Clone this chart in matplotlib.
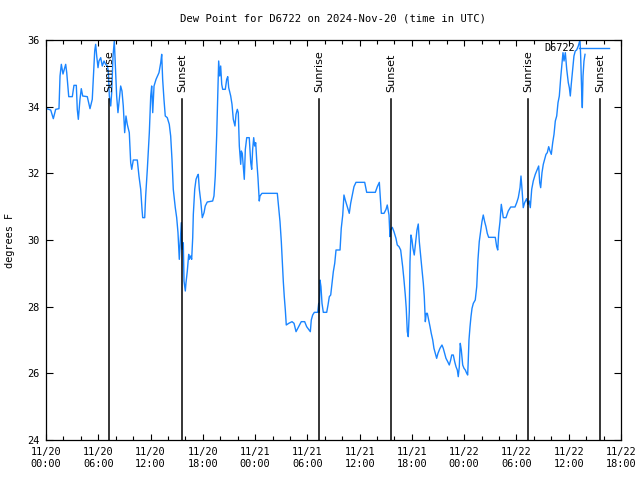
import numpy as np
import pandas as pd
import matplotlib
matplotlib.use("Agg")
import matplotlib.pyplot as plt
import matplotlib.dates as mdates

# hours after 2024-11-20 00:00 UTC
hours = [0.08, 0.54, 0.84, 1.11, 1.49, 1.61, 1.76, 1.95, 2.15, 2.26, 2.38, 2.53, 2.61, 3.02, 3.21, 3.48,
         3.59, 3.71, 3.90, 4.05, 4.21, 4.74, 5.05, 5.31, 5.43, 5.59, 5.70, 5.82, 5.97, 6.08, 6.28, 6.46,
         6.66, 6.85, 7.04, 7.15, 7.27, 7.43, 7.54, 7.69, 7.84, 7.95, 8.11, 8.26, 8.41, 8.57, 8.72, 8.87,
         9.03, 9.18, 9.33, 9.56, 9.72, 9.84, 10.02, 10.48, 10.67, 10.87, 11.02, 11.10, 11.33, 11.44, 11.63,
         11.86, 12.02, 12.13, 12.25, 12.40, 12.63, 12.97, 13.17, 13.28, 13.39, 13.54, 13.69, 13.92, 14.15,
         14.31, 14.46, 14.61, 14.84, 15.00, 15.15, 15.30, 15.46, 15.53, 15.61, 15.76, 15.84, 15.99, 16.07,
         16.22, 16.38, 16.45, 16.61, 16.72, 16.84, 16.91, 17.07, 17.22, 17.37, 17.48, 17.60, 17.76, 17.94,
         18.14, 18.28, 18.51, 19.13, 19.28, 19.43, 19.59, 19.74, 19.82, 19.94, 20.05, 20.17, 20.28, 20.58,
         20.74, 20.86, 20.97, 21.20, 21.35, 21.50, 21.69, 21.81, 21.96, 22.07, 22.19, 22.35, 22.42, 22.53,
         22.65, 22.76, 22.88, 23.04, 23.33, 23.50, 23.61, 23.72, 23.84, 23.95, 24.07, 24.18, 24.33, 24.48,
         24.56, 24.79, 26.55, 26.71, 26.86, 27.01, 27.12, 27.24, 27.35, 27.47, 27.58, 27.86, 28.24, 28.47,
         28.70, 29.00, 29.30, 29.69, 29.92, 30.19, 30.34, 30.45, 30.61, 30.80, 31.19, 31.30, 31.37, 31.45,
         31.56, 31.68, 31.83, 32.22, 32.37, 32.52, 32.68, 32.83, 32.98, 33.14, 33.29, 33.75, 33.89, 34.06,
         34.20, 34.35, 34.58, 34.81, 34.97, 35.20, 35.35, 35.58, 36.58, 36.81, 37.80, 38.03, 38.26, 38.49,
         38.80, 39.03, 39.17, 39.37, 39.48, 39.56, 39.75, 39.94, 40.17, 40.32, 40.52, 40.71, 40.94, 41.09,
         41.24, 41.35, 41.47, 41.58, 41.70, 41.78, 41.89, 42.01, 42.12, 42.27, 42.43, 42.58, 42.73, 42.85,
         43.01, 43.16, 43.31, 43.42, 43.54, 43.65, 43.77, 43.93, 44.08, 44.22, 44.39, 44.53, 44.68, 44.84,
         44.99, 45.22, 45.45, 45.60, 45.76, 45.91, 46.11, 46.29, 46.45, 46.57, 46.75, 46.91, 47.06, 47.21,
         47.32, 47.44, 47.55, 47.67, 47.83, 47.98, 48.13, 48.29, 48.40, 48.47, 48.55, 48.67, 48.78, 48.90,
         49.05, 49.27, 49.44, 49.58, 49.73, 49.89, 50.04, 50.19, 50.35, 50.50, 50.65, 50.81, 51.57, 51.73,
         51.85, 51.96, 52.11, 52.26, 52.49, 52.80, 53.06, 53.34, 53.83, 54.03, 54.21, 54.41, 54.52, 54.64,
         54.78, 54.94, 55.17, 55.32, 55.47, 55.59, 55.75, 55.93, 56.16, 56.39, 56.55, 56.67, 56.78, 56.93,
         57.08, 57.24, 57.39, 57.54, 57.70, 57.85, 58.00, 58.16, 58.31, 58.46, 58.62, 58.77, 58.92, 59.08,
         59.23, 59.34, 59.46, 59.61, 59.77, 59.95, 60.07, 60.18, 60.29, 60.45, 60.60, 60.75, 60.91, 61.10,
         61.21, 61.29, 61.37, 61.49, 61.56, 61.64, 61.75, 61.87]

dewpoint = [33.94, 33.90, 33.64, 33.92, 33.94, 34.92, 35.27, 34.98, 35.17, 35.27, 35.02, 34.57, 34.30, 34.30,
            34.64, 34.64, 33.92, 33.62, 34.22, 34.54, 34.32, 34.30, 33.94, 34.22, 34.82, 35.67, 35.87, 35.52,
            35.17, 35.37, 35.47, 35.22, 35.37, 35.27, 35.22, 35.07, 34.32, 34.02, 34.42, 35.52, 35.97, 35.27,
            34.32, 33.82, 34.22, 34.62, 34.47, 34.02, 33.22, 33.72, 33.47, 33.22, 32.32, 32.12, 32.40, 32.40,
            31.92, 31.52, 30.92, 30.67, 30.67, 31.32, 32.12, 33.22, 34.32, 34.62, 33.82, 34.62, 34.82, 35.02,
            35.32, 35.57, 34.82, 34.22, 33.72, 33.67, 33.47, 33.12, 32.42, 31.52, 30.97, 30.67, 30.22, 29.42,
            30.22, 30.52, 29.72, 29.92, 28.77, 28.47, 28.72, 29.07, 29.57, 29.42, 29.52, 29.42, 30.07, 30.77,
            31.52, 31.82, 31.92, 31.97, 31.52, 31.17, 30.67, 30.82, 31.02, 31.14, 31.17, 31.32, 31.92, 33.12,
            34.62, 35.37, 34.92, 35.22, 34.67, 34.52, 34.52, 34.82, 34.90, 34.57, 34.32, 34.07, 33.62, 33.42,
            33.77, 33.92, 33.82, 32.82, 32.27, 32.67, 32.60, 32.17, 31.82, 32.72, 33.07, 33.07, 32.32, 32.12,
            32.72, 33.07, 32.82, 32.92, 32.42, 31.87, 31.17, 31.32, 31.40, 31.40, 30.97, 30.55, 29.95, 29.35,
            28.75, 28.30, 27.90, 27.45, 27.50, 27.55, 27.50, 27.25, 27.40, 27.55, 27.55, 27.40, 27.30, 27.25,
            27.60, 27.75, 27.83, 27.83, 28.10, 27.83, 28.80, 28.60, 28.10, 27.83, 27.83, 28.05, 28.30, 28.35,
            28.70, 29.05, 29.30, 29.70, 29.70, 30.35, 30.75, 31.35, 31.20, 31.00, 30.80, 31.10, 31.40, 31.60,
            31.73, 31.73, 31.43, 31.43, 31.60, 31.73, 30.80, 30.80, 30.92, 31.05, 30.75, 30.10, 30.30, 30.38,
            30.25, 30.05, 29.85, 29.80, 29.70, 29.20, 28.80, 28.35, 27.95, 27.25, 27.10, 27.85, 29.35, 30.15,
            30.00, 29.75, 29.55, 29.95, 30.30, 30.48, 29.95, 29.50, 29.10, 28.70, 28.30, 27.55, 27.80, 27.80,
            27.60, 27.40, 27.20, 27.00, 26.75, 26.60, 26.45, 26.60, 26.75, 26.85, 26.75, 26.60, 26.45, 26.35,
            26.25, 26.40, 26.55, 26.55, 26.35, 26.20, 26.10, 25.90, 26.20, 26.90, 26.70, 26.25, 26.15, 26.10,
            26.00, 25.95, 26.40, 27.00, 27.40, 27.70, 27.95, 28.10, 28.20, 28.60, 29.40, 29.95, 30.25, 30.55,
            30.75, 30.55, 30.40, 30.20, 30.08, 30.08, 29.80, 29.70, 30.20, 30.55, 31.07, 30.67, 30.67, 30.87,
            30.99, 30.99, 31.12, 31.27, 31.57, 31.92, 31.52, 30.97, 31.12, 31.24, 31.07, 31.17, 30.97, 31.52,
            31.77, 31.97, 32.12, 32.22, 31.72, 31.57, 32.02, 32.27, 32.42, 32.57, 32.62, 32.80, 32.67, 32.57,
            32.92, 33.17, 33.57, 33.72, 34.12, 34.32, 34.87, 35.32, 35.62, 35.37, 35.62, 35.12, 34.72, 34.57,
            34.32, 34.67, 35.12, 35.52, 35.67, 35.70, 35.82, 35.92, 36.00, 35.52, 34.42, 33.97, 34.92, 35.37,
            35.57]

sun_times = ["2024-11-20 07:14", "2024-11-20 15:38", "2024-11-21 07:21",
             "2024-11-21 15:37", "2024-11-22 07:21", "2024-11-22 15:36"]
sun_labels = ["Sunrise", "Sunset", "Sunrise", "Sunset", "Sunrise", "Sunset"]

start = pd.Timestamp("2024-11-20 00:00")
times = start + pd.to_timedelta(hours, unit="h")

mono = "DejaVu Sans Mono"
plt.rcParams["font.family"] = mono
plt.rcParams["font.size"] = 7.4

fig = plt.figure(figsize=(6.4, 4.8), dpi=100)
ax = fig.add_axes([46 / 640, 40 / 480, 575 / 640, 400 / 480])

ax.plot(times, dewpoint, color="#1a85ff", lw=1.0, label="D6722")

for t, lab in zip(sun_times, sun_labels):
    tt = pd.Timestamp(t)
    ax.axvline(tt, ymin=0, ymax=0.853, color="black", lw=1.1)
    ax.text(tt, 0.87, lab, transform=ax.get_xaxis_transform(), rotation=90,
            ha="center", va="bottom", fontsize=8, family="DejaVu Sans")

ax.set_xlim(start, start + pd.Timedelta(hours=66))
ax.set_ylim(24, 36)
ax.set_yticks(np.arange(24, 37, 2))
ax.xaxis.set_major_locator(mdates.HourLocator(byhour=[0, 6, 12, 18]))
ax.xaxis.set_minor_locator(mdates.HourLocator(interval=2))
ax.xaxis.set_major_formatter(mdates.DateFormatter("%m/%d\n%H:%M"))
ax.tick_params(which="major", direction="in", length=5, width=0.8, top=True, right=True, pad=5)
ax.tick_params(which="minor", direction="in", length=3, width=0.8, top=True, right=True)
ax.tick_params(axis="x", which="major", length=4)
for s in ax.spines.values():
    s.set_linewidth(0.9)

ax.set_title("Dew Point for D6722 on 2024-Nov-20 (time in UTC)", fontsize=7.6, pad=13)
ax.set_ylabel("degrees F")
ax.yaxis.set_label_coords(-31 / 575, 0.5)

ax.legend(loc="upper right", bbox_to_anchor=(1 - 6 / 575, 1 + 3 / 400), frameon=False,
          markerfirst=False, handlelength=2.9, handletextpad=0.4, borderaxespad=0.2,
          fontsize=7.4)

fig.savefig("out.png", dpi=100)
